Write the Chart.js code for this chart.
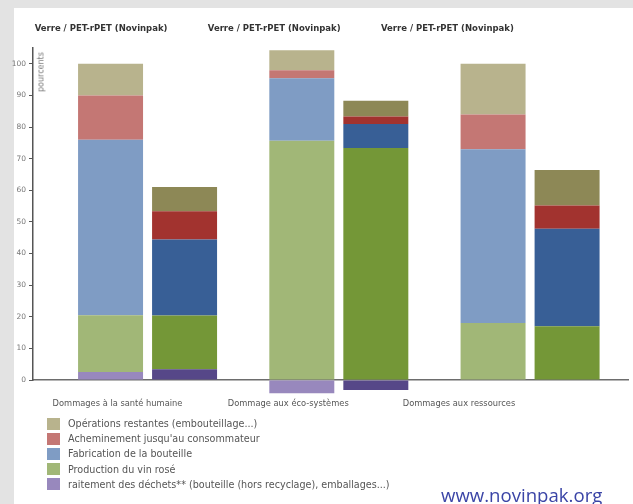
<!DOCTYPE html>
<html>
<head>
<meta charset="utf-8">
<script src="https://cdn.jsdelivr.net/npm/chart.js@4.4.1/dist/chart.umd.min.js"></script>
<style>
  html, body { margin: 0; padding: 0; }
  body { width: 633px; height: 504px; background: #e3e3e3; position: relative; overflow: hidden; font-family: "DejaVu Sans", sans-serif; }
  #panel { position: absolute; left: 14px; top: 8px; right: 0; bottom: 0; background: #fff; }
  #wrap { position: absolute; left: 0; top: 0; width: 633px; height: 504px; }
  #unit { position: absolute; left: 41px; top: 72px; font-size: 8px; color: #777; transform: translate(-50%, -50%) rotate(-90deg); white-space: nowrap; }
  #legend { position: absolute; left: 47px; top: 416px; }
  .item { height: 15.2px; display: flex; align-items: center; font-size: 9.6px; color: #555; white-space: nowrap; }
  .sw { width: 13px; height: 12px; margin-right: 8px; flex: none; }
  #site { position: absolute; left: 441px; top: 482px; font-family: "Open Sans", sans-serif; font-size: 18.6px; color: #3a44a6; }
</style>
</head>
<body>
<div id="panel"></div>
<div id="wrap"><canvas id="chart"></canvas></div>
<div id="unit">pourcents</div>
<div id="legend"></div>
<div id="site">www.novinpak.org</div>
<script>
// categories + headers
const categories = ["Dommages à la santé humaine", "Dommage aux éco-systèmes", "Dommages aux ressources"];
const header = "Verre / PET-rPET (Novinpak)";

// layers, top of stack first (legend order)
const layers = [
  "Opérations restantes (embouteillage...)",
  "Acheminement jusqu'au consommateur",
  "Fabrication de la bouteille",
  "Production du vin rosé",
  "raitement des déchets** (bouteille (hors recyclage), emballages...)"
];

// Verre (light bars), percent
const verreOperations = [10, 6.3, 16];
const verreAcheminement = [14, 2.6, 11];
const verreFabrication = [55.5, 19.7, 55];
const verreProduction = [18, 75.7, 18];
const verreDechets = [2.5, -4.2, 0];

// PET-rPET (dark bars), percent
const petOperations = [7.6, 5, 11.2];
const petAcheminement = [9, 2.3, 7.4];
const petFabrication = [24, 7.6, 30.8];
const petProduction = [17, 73.4, 17];
const petDechets = [3.4, -3.2, 0];

const yTicks = [0, 10, 20, 30, 40, 50, 60, 70, 80, 90, 100];

const verreColors = ["#b8b38d", "#c47774", "#7f9cc4", "#a1b777", "#9888bd"];
const petColors = ["#8d8856", "#a2332f", "#385f96", "#749737", "#564788"];

const verreSeries = [verreOperations, verreAcheminement, verreFabrication, verreProduction, verreDechets];
const petSeries = [petOperations, petAcheminement, petFabrication, petProduction, petDechets];

// Legend (html, one per line)
const legend = document.getElementById("legend");
layers.forEach((name, i) => {
  const row = document.createElement("div");
  row.className = "item";
  row.innerHTML = `<span class="sw" style="background:${verreColors[i]}"></span>${name}`;
  legend.appendChild(row);
});

// datasets bottom-up so the stack order matches
const datasets = [];
for (let i = layers.length - 1; i >= 0; i--) {
  datasets.push({ label: layers[i], data: verreSeries[i], backgroundColor: verreColors[i], stack: "verre", clip: false });
  datasets.push({ label: layers[i], data: petSeries[i], backgroundColor: petColors[i], stack: "pet", clip: false });
}

const indexTicks = axis => { axis.ticks = categories.map((_, i) => ({ value: i })); };

new Chart(document.getElementById("chart"), {
  type: "bar",
  data: {
    labels: categories.map((_, i) => i),
    datasets: datasets
  },
  options: {
    responsive: true,
    maintainAspectRatio: false,
    animation: false,
    layout: { padding: { left: 0, right: 5, top: 0, bottom: 0 } },
    categoryPercentage: 0.774,
    barPercentage: 0.878,
    plugins: { legend: { display: false }, tooltip: { enabled: false } },
    scales: {
      x: {
        type: "linear",
        display: false,
        offset: false,
        min: -0.599,
        max: 2.512,
        afterBuildTicks: indexTicks
      },
      xl: {
        type: "linear",
        position: "bottom",
        offset: false,
        min: -0.495,
        max: 2.99,
        afterBuildTicks: indexTicks,
        afterFit: axis => { axis.height = 124; },
        grid: { display: false, drawTicks: false },
        border: { display: true, color: "#6d6d6d", width: 1.5 },
        ticks: {
          padding: 19,
          maxRotation: 0,
          autoSkip: false,
          color: "#555",
          font: { family: "DejaVu Sans", size: 8.3 },
          callback: v => categories[v]
        }
      },
      xt: {
        type: "linear",
        position: "top",
        offset: false,
        min: -0.393,
        max: 3.043,
        afterBuildTicks: indexTicks,
        afterFit: axis => { axis.height = 48; },
        grid: { display: false, drawTicks: false },
        border: { display: false },
        ticks: {
          padding: 14,
          maxRotation: 0,
          autoSkip: false,
          color: "#333",
          font: { family: "DejaVu Sans", size: 8.5, weight: "bold" },
          callback: () => header
        }
      },
      y: {
        stacked: true,
        min: 0,
        max: 105,
        afterBuildTicks: axis => { axis.ticks = yTicks.map(v => ({ value: v })); },
        afterFit: axis => { axis.width = 33; },
        grid: { display: true, drawOnChartArea: false, tickLength: 4, tickColor: "#555" },
        border: { display: true, color: "#555", width: 1.5 },
        ticks: {
          padding: 3,
          color: "#777",
          font: { family: "DejaVu Sans", size: 7.5 }
        }
      }
    }
  }
});
</script>
</body>
</html>
